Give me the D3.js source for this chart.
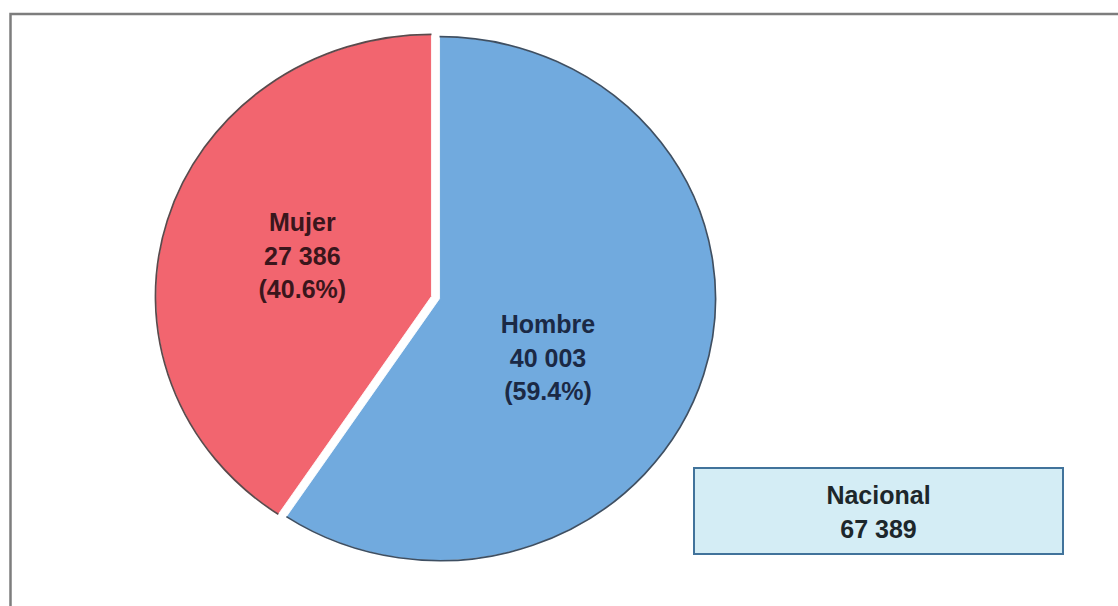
<!DOCTYPE html>
<html>
<head>
<meta charset="utf-8">
<script src="https://cdn.jsdelivr.net/npm/d3@7"></script>
<style>
  html, body { margin: 0; padding: 0; background: #fff; }
  svg { display: block; }
  text { font-family: "Liberation Sans", Arial, sans-serif; font-weight: bold; }
</style>
</head>
<body>
<svg id="chart" width="1118" height="606"></svg>
<script>
// ---- data ----
const categories = ["Hombre", "Mujer"];
const values = [40003, 27386];
const percentLabels = ["59.4%", "40.6%"];
const totalLabel = "Nacional";
const totalValue = 67389;

// ---- helpers ----
const fmt = n => d3.format(",")(n).replace(/,/g, " ");

const svg = d3.select("#chart");

// frame
svg.append("rect")
  .attr("x", 10.5).attr("y", 14)
  .attr("width", 1130).attr("height", 620)
  .attr("fill", "#fff")
  .attr("stroke", "#7d7d7d")
  .attr("stroke-width", 2.5);

// pie geometry
const cx = 435.5, cy = 297.5;
const r = 262;
const sx = 276 / 262; // slight horizontal stretch as in the reference
const explode = 4;

const colors = d3.scaleOrdinal().domain(categories).range(["#71aade", "#f2656f"]);
const edgeColors = d3.scaleOrdinal().domain(categories).range(["#3e4f62", "#5a4a4c"]);
const textColors = d3.scaleOrdinal().domain(categories).range(["#1b2945", "#3a161c"]);

const pie = d3.pie().sort(null).value(d => d.value);
const arcs = pie(categories.map((c, i) => ({ name: c, value: values[i], pct: percentLabels[i] })));

const arc = d3.arc().innerRadius(0).outerRadius(r);
const edge = d3.arc().innerRadius(r).outerRadius(r);

// label angular / radial adjustments (manual placement in the original)
const labelAdj = { Hombre: { da: 0.227, rr: 1.0 }, Mujer: { da: 0.016, rr: 1.078 } };

const g = svg.append("g").attr("transform", `translate(${cx},${cy}) scale(${sx},1)`);

const slice = g.selectAll("g.slice").data(arcs).enter().append("g")
  .attr("class", "slice")
  .attr("transform", d => {
    const m = (d.startAngle + d.endAngle) / 2;
    return `translate(${Math.sin(m) * explode},${-Math.cos(m) * explode})`;
  });

slice.append("path")
  .attr("d", arc)
  .attr("fill", d => colors(d.data.name))
  .attr("stroke", "#fff")
  .attr("stroke-width", 0.8);

slice.append("path")
  .attr("d", edge)
  .attr("fill", "none")
  .attr("stroke", d => edgeColors(d.data.name))
  .attr("stroke-width", 1.7)
  .attr("vector-effect", "non-scaling-stroke");

// labels (outside the scaled group so text is not stretched)
const lg = svg.append("g");
arcs.forEach(d => {
  const adj = labelAdj[d.data.name];
  const m = (d.startAngle + d.endAngle) / 2 + adj.da;
  const lr = r * 0.47 * adj.rr;
  const x = cx + Math.sin(m) * lr * sx;
  const y = cy - Math.cos(m) * lr;
  const lines = [d.data.name, fmt(d.data.value), `(${d.data.pct})`];
  const t = lg.append("text")
    .attr("text-anchor", "middle")
    .attr("font-size", 25)
    .attr("fill", textColors(d.data.name));
  lines.forEach((s, i) => {
    t.append("tspan")
      .attr("x", x)
      .attr("y", y + (i - 1) * 33.5 + 8)
      .text(s);
  });
});

// total box
const box = { x: 694, y: 468, w: 369, h: 86 };
svg.append("rect")
  .attr("x", box.x).attr("y", box.y)
  .attr("width", box.w).attr("height", box.h)
  .attr("fill", "#d4edf5")
  .attr("stroke", "#41739b")
  .attr("stroke-width", 2);

const bt = svg.append("text")
  .attr("text-anchor", "middle")
  .attr("font-size", 25)
  .attr("fill", "#1d272b");
bt.append("tspan").attr("x", box.x + box.w / 2).attr("y", 504).text(totalLabel);
bt.append("tspan").attr("x", box.x + box.w / 2).attr("y", 538).text(fmt(totalValue));
</script>
</body>
</html>
